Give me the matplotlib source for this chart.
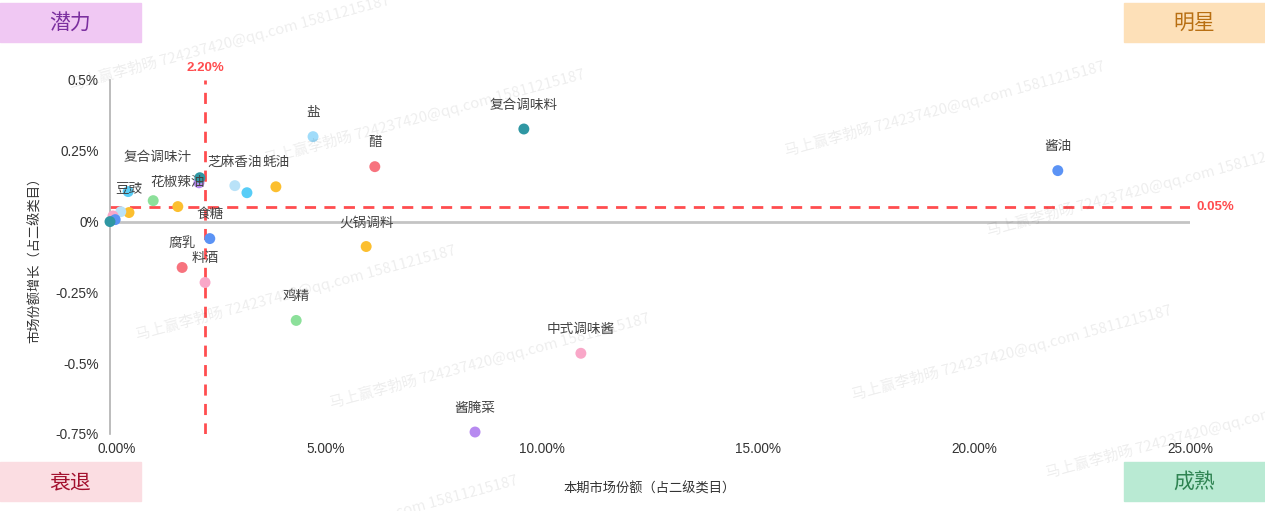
import numpy as np
import matplotlib
matplotlib.use("Agg")
import matplotlib.pyplot as plt

# ---------- Data ----------
names = ['酱油', '复合调味料', '盐', '醋', '芝麻香油', '蚝油', '', '复合调味汁', '花椒辣油',
         '豆豉', '', '', '', '', '', '', '', '食糖', '料酒', '腐乳', '火锅调料', '鸡精',
         '中式调味酱', '酱腌菜']
share = [21.94, 9.58, 4.70, 6.13, 2.89, 3.84, 3.17, 1.00, 1.57,
         0.44, 0.42, 2.06, 2.08, 0.25, 0.07, 0.12, 0.0, 2.31, 2.20, 1.67, 5.93, 4.31,
         10.90, 8.45]
growth = [0.180, 0.327, 0.300, 0.194, 0.127, 0.123, 0.102, 0.074, 0.053,
          0.032, 0.106, 0.137, 0.155, 0.035, 0.020, 0.007, 0.0, -0.060, -0.215, -0.162, -0.088,
          -0.349, -0.465, -0.743]
colors = ['#5b93f5', '#2f97a3', '#a0dcfa', '#f7737e', '#b9e2f8', '#fcbf2f', '#58cdf7', '#8ce09a', '#fcbf2f',
          '#fcbf2f', '#58cdf7', '#b78af0', '#2f97a3', '#b9e2f8', '#f9a7c8', '#5b93f5', '#2f97a3',
          '#5b93f5', '#f9a7c8', '#f7737e', '#fcbf2f', '#8ce09a', '#f9a7c8', '#b78af0']
# extra shift (points) for labels moved to avoid overlap
label_shift = {'复合调味汁': (3.5, 14)}

x_threshold = 2.20
y_threshold = 0.05
x_ticks = [0, 5, 10, 15, 20, 25]
y_ticks = [0.5, 0.25, 0, -0.25, -0.5, -0.75]
y_tick_labels = ['0.5%', '0.25%', '0%', '-0.25%', '-0.5%', '-0.75%']

quadrants = [('潜力', '#f0c8f3', '#7b2f9f', 'left', 'top'),
             ('明星', '#fde0b8', '#b86f12', 'right', 'top'),
             ('衰退', '#fbdde2', '#a3102e', 'left', 'bottom'),
             ('成熟', '#b9ead3', '#2f8452', 'right', 'bottom')]

watermark = '马上赢李勃旸 724237420@qq.com 15811215187'
# centres in figure pixels (from top-left)
wm_pos = [(230, 42), (425, 116), (945, 108), (1147, 188), (296, 292),
          (490, 360), (1012, 352), (1206, 430), (358, 522)]

CJK = ['Noto Sans CJK SC', 'DejaVu Sans']
NUM = ['Liberation Sans', 'DejaVu Sans']

W, H = 1265, 511
fig = plt.figure(figsize=(W / 100, H / 100), dpi=100)
ax = fig.add_axes([110 / W, 1 - 434 / H, 1080 / W, 354 / H])

ax.set_xlim(0, 25)
ax.set_ylim(-0.75, 0.5)
for s in ['top', 'right', 'bottom']:
    ax.spines[s].set_visible(False)
ax.spines['left'].set_color('#b0b0b0')
ax.spines['left'].set_linewidth(1.2)
ax.axhline(0, color='#c4c4c4', lw=2, zorder=1)

xtick_text = [f'{t:.2f}%' for t in x_ticks]
ax.set_xticks(x_ticks)
# first label is drawn separately, nudged right like the original
ax.set_xticklabels([''] + xtick_text[1:], family=NUM, fontsize=9.8, color='#333333')
ax.annotate(xtick_text[0], (x_ticks[0], -0.75), xytext=(5, -11), textcoords='offset points',
            ha='center', va='center', family=NUM, fontsize=9.8, color='#333333', annotation_clip=False)
ax.set_yticks(y_ticks)
ax.set_yticklabels(y_tick_labels, family=NUM, fontsize=9.8, color='#333333')
ax.tick_params(length=0)
ax.tick_params(axis='x', pad=6)
ax.tick_params(axis='y', pad=8)

ax.set_xlabel('本期市场份额（占二级类目）', family=CJK, fontsize=9.5, color='#333333', labelpad=19)
ax.set_ylabel('市场份额增长（占二级类目）', family=CJK, fontsize=9.5, color='#333333', labelpad=10)

# threshold lines
ax.axvline(x_threshold, color='#ff4d4f', lw=2, dashes=(4, 3), zorder=2)
ax.axhline(y_threshold, color='#ff4d4f', lw=2, dashes=(4, 3), zorder=2)
ax.text(x_threshold, 0.5 + 0.02, f'{x_threshold:.2f}%', color='#ff4d4f', fontsize=9.5,
        fontweight='bold', family=NUM, ha='center', va='bottom')
ax.text(25.15, y_threshold, f'{y_threshold:.2f}%', color='#ff4d4f', fontsize=9.5,
        fontweight='bold', family=NUM, ha='left', va='center')

# points
for n, x, y, c in zip(names, share, growth, colors):
    ax.scatter(x, y, s=62, color=c, edgecolors='none', zorder=3, clip_on=False)
for n, x, y in zip(names, share, growth):
    if not n:
        continue
    dx, dy = label_shift.get(n, (0, 0))
    ax.annotate(n, (x, y), xytext=(dx, 17.5 + dy), textcoords='offset points',
                ha='center', va='center', family=CJK, fontsize=9.8, color='#444444', zorder=4)

# quadrant tags
for txt, bg, fg, hpos, vpos in quadrants:
    x0 = 0 if hpos == 'left' else 1124
    y0 = 3 if vpos == 'top' else 462
    fig.patches.append(plt.Rectangle((x0 / W, 1 - (y0 + 39) / H), 141 / W, 39 / H,
                                     transform=fig.transFigure, color=bg, zorder=0))
    fig.text((x0 + 70.5) / W, 1 - (y0 + 20) / H, txt, family=CJK, fontsize=15,
             color=fg, ha='center', va='center')

# watermark
for px, py in wm_pos:
    fig.text(px / W, 1 - py / H, watermark, family=CJK, fontsize=10.8, color='#000000',
             alpha=0.07, rotation=15, rotation_mode='anchor', ha='center', va='center')

fig.savefig('out.png', dpi=100)
